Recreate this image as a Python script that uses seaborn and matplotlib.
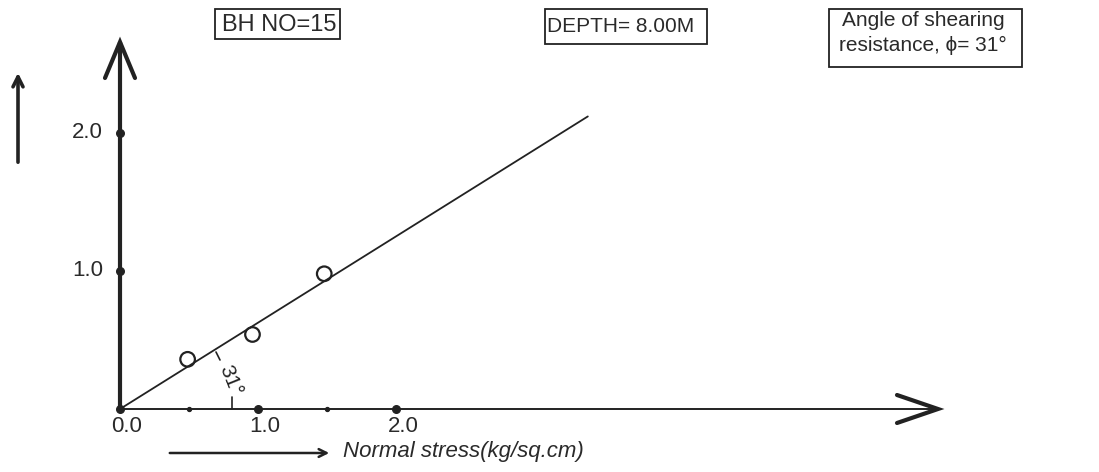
import matplotlib
matplotlib.use("Agg")
import matplotlib.pyplot as plt
import matplotlib.patches as mpatches
import seaborn as sns
import pandas as pd

# ---- data ----
normal_stress = [0.49, 0.96, 1.48]
shear_stress = [0.36, 0.54, 0.98]
fit_x = [0.0, 3.39]
fit_y = [0.0, 2.12]
x_major_ticks = [1.0, 2.0]
x_minor_ticks = [0.5, 1.5]
y_ticks = [1.0, 2.0]
x_tick_labels = ["0.0", "1.0", "2.0"]
y_tick_labels = ["1.0", "2.0"]
bh_text = "BH NO=15"
depth_text = "DEPTH= 8.00M"
angle_line1 = "Angle of shearing"
angle_line2 = "resistance, \u03d5= 31\u00b0"
angle_mark = "31\u00b0"
x_label = "Normal stress(kg/sq.cm)"

sns.set_theme(style="white")
plt.rcParams['font.family'] = ['Liberation Sans', 'DejaVu Sans']

W, H = 1099, 472
fig = plt.figure(figsize=(W / 100, H / 100), dpi=100)
fig.patch.set_facecolor("white")
ax = fig.add_axes([0, 0, 1, 1])
ax.set_axis_off()

S = 138.0          # pixels per data unit
OX, OY = 120, 409  # origin pixel
ax.set_xlim(-OX / S, (W - OX) / S)
ax.set_ylim(-(H - OY) / S, OY / S)

INK = "#222222"
TXT = "#2a2a2a"

def fx(px):
    return px / W

def fy(py):
    return 1 - py / H

# axes
x_end = (938 - OX) / S
y_end = (OY - 42) / S
ax.plot([0, x_end], [0, 0], color=INK, lw=1.4, solid_capstyle="butt")
ax.plot([0, 0], [0, y_end], color=INK, lw=3.0, solid_capstyle="butt")
# chevrons
ax.plot([x_end - 41 / S, x_end, x_end - 41 / S], [14 / S, 0, -14 / S],
        color=INK, lw=3.0, solid_joinstyle="miter")
ax.plot([-15 / S, 0, 15 / S], [y_end - 36 / S, y_end, y_end - 36 / S],
        color=INK, lw=3.0, solid_joinstyle="miter")

# fit line
df_line = pd.DataFrame({"x": fit_x, "y": fit_y})
sns.lineplot(data=df_line, x="x", y="y", ax=ax, color=INK, lw=1.3,
             legend=False)

# points
df = pd.DataFrame({"x": normal_stress, "y": shear_stress})
sns.scatterplot(data=df, x="x", y="y", ax=ax, s=110, facecolor="none",
                edgecolor=INK, linewidth=1.6, legend=False, zorder=5)

# tick dots
ax.scatter([0] + x_major_ticks, [0] * (1 + len(x_major_ticks)), s=30,
           color=INK, zorder=6)
ax.scatter(x_minor_ticks, [0] * len(x_minor_ticks), s=8, color=INK, zorder=6)
ax.scatter([0] * len(y_ticks), y_ticks, s=30, color=INK, zorder=6)

fs = 16
for xv, lab in zip([0.0] + x_major_ticks, x_tick_labels):
    ax.text(xv + 0.05, -17 / S, lab, ha="center", va="center", fontsize=fs,
            color=TXT)
for yv, lab in zip(y_ticks, y_tick_labels):
    ax.text(-17 / S, yv, lab, ha="right", va="center", fontsize=fs,
            color=TXT)

# angle mark
ax.plot([(232 - OX) / S] * 2, [0, 12 / S], color=INK, lw=1.2)
ax.plot([(216 - OX) / S, (220 - OX) / S], [(OY - 352) / S, (OY - 360) / S],
        color=INK, lw=1.2)
ax.text((230 - OX) / S, (OY - 381) / S, angle_mark, rotation=-68,
        ha="center", va="center", fontsize=15, color=INK)

# x label arrow and text
ax.annotate("", xy=(fx(332), fy(453)), xytext=(fx(167), fy(453)),
            xycoords="figure fraction", textcoords="figure fraction",
            arrowprops=dict(arrowstyle="->", color=INK, lw=1.8,
                            mutation_scale=14))
fig.text(fx(343), fy(452), x_label, ha="left", va="center", fontsize=fs,
         style="italic", color=TXT)

# left y arrow
ax.annotate("", xy=(fx(18), fy(70)), xytext=(fx(18), fy(165)),
            xycoords="figure fraction", textcoords="figure fraction",
            arrowprops=dict(arrowstyle="->", color=INK, lw=2.6,
                            mutation_scale=18))

# boxes
def box(x0, y0, x1, y1):
    r = mpatches.Rectangle((fx(x0), fy(y1)), fx(x1) - fx(x0), fy(y0) - fy(y1),
                           transform=fig.transFigure, fill=False,
                           edgecolor=INK, lw=1.3)
    fig.patches.append(r)

box(215, 9, 340, 39)
fig.text(fx(279), fy(25), bh_text, ha="center", va="center", fontsize=17,
         color=TXT)
box(545, 9, 707, 44)
fig.text(fx(547), fy(26), depth_text, ha="left", va="center", fontsize=15,
         color=TXT)
box(829, 9, 1022, 67)
fig.text(fx(923), fy(21), angle_line1, ha="center", va="center",
         fontsize=15, color=TXT)
fig.text(fx(923), fy(45), angle_line2, ha="center",
         va="center", fontsize=15, color=TXT,
         family=['Liberation Sans', 'DejaVu Sans'])

fig.savefig("out.png", dpi=100, facecolor="white")
